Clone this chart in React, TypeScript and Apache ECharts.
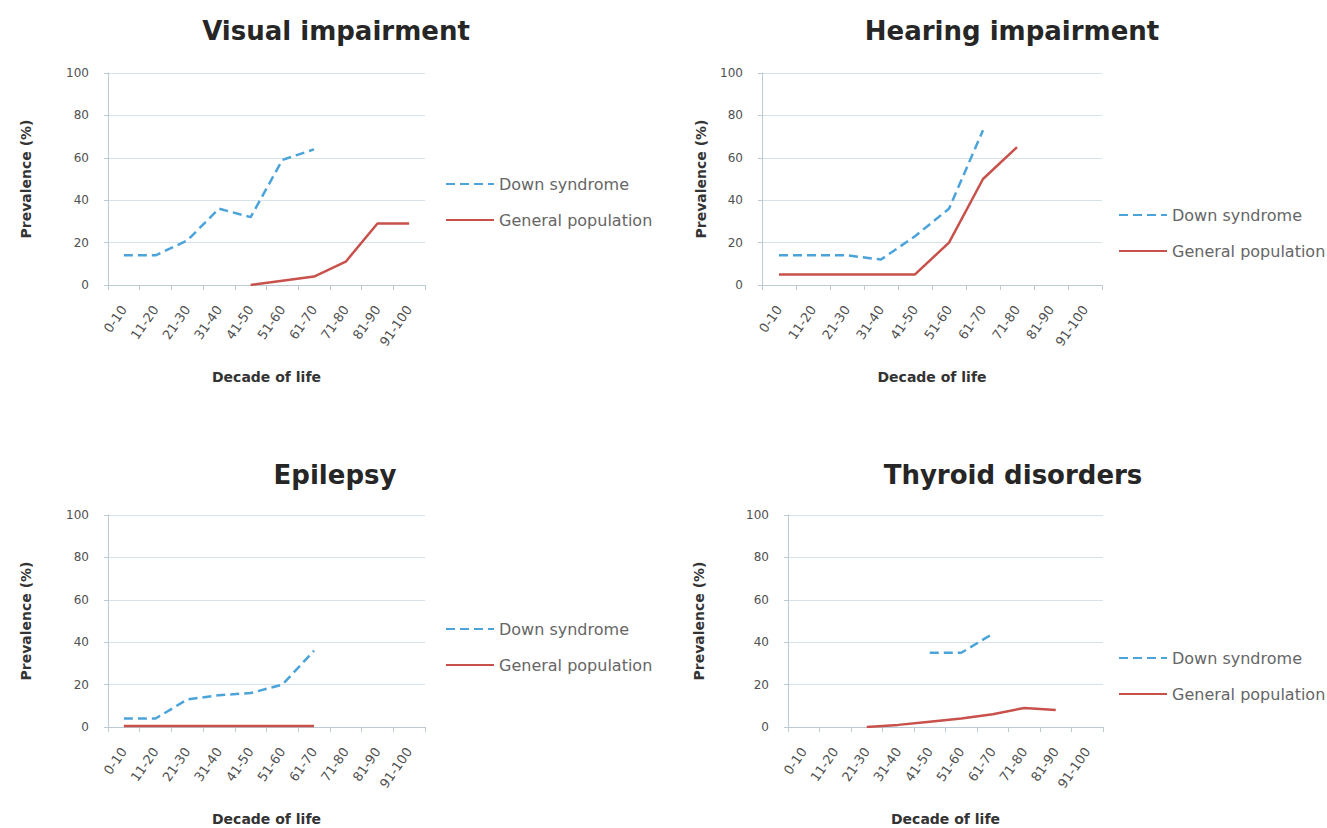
import React, { useEffect, useRef } from "react";
import * as echarts from "echarts";

const decades = ["0-10", "11-20", "21-30", "31-40", "41-50", "51-60", "61-70", "71-80", "81-90", "91-100"];
const yTicks = [0, 20, 40, 60, 80, 100];

const visualDown = [14, 14, 21, 36, 32, 59, 64, null, null, null];
const visualGeneral = [null, null, null, null, 0, 2, 4, 11, 29, 29];
const hearingDown = [14, 14, 14, 12, 23, 36, 73, null, null, null];
const hearingGeneral = [5, 5, 5, 5, 5, 20, 50, 65, null, null];
const epilepsyDown = [4, 4, 13, 15, 16, 20, 36, null, null, null];
const epilepsyGeneral = [0.5, 0.5, 0.5, 0.5, 0.5, 0.5, 0.5, null, null, null];
const thyroidDown = [null, null, null, null, 35, 35, 44, null, null, null];
const thyroidGeneral = [null, null, 0, 1, 2.5, 4, 6, 9, 8, null];

const panelTitles = ["Visual impairment", "Hearing impairment", "Epilepsy", "Thyroid disorders"];
const seriesNames = ["Down syndrome", "General population"];
const panelData = [
  [visualDown, visualGeneral],
  [hearingDown, hearingGeneral],
  [epilepsyDown, epilepsyGeneral],
  [thyroidDown, thyroidGeneral],
];

const FONT = "DejaVu Sans";
const BLUE = "#4ba3da";
const RED = "#c9514b";
const GRID_LINE = "#d6e2e8";
const AXIS_LINE = "#bccbd3";
const LABEL = "#505050";

// panel geometry: plot rectangle, title centre, y-name gap, legend position
const panels = [
  { left: 108, top: 73, width: 317, height: 212, titleX: 331, titleY: 13, nameGap: 75, legendX: 440, legendY: 171 },
  { left: 762, top: 73, width: 340, height: 212, titleX: 1007, titleY: 13, nameGap: 54, legendX: 1113, legendY: 202 },
  { left: 108, top: 515, width: 317, height: 212, titleX: 330, titleY: 457, nameGap: 75, legendX: 440, legendY: 616 },
  { left: 788, top: 515, width: 315, height: 212, titleX: 1008, titleY: 457, nameGap: 82, legendX: 1113, legendY: 645 },
];

export default function App() {
  const ref = useRef<HTMLDivElement>(null);

  useEffect(() => {
    if (!ref.current) return;
    const chart = echarts.init(ref.current, null, { renderer: "svg" });

    const option: any = {
      animation: false,
      backgroundColor: "#ffffff",
      textStyle: { fontFamily: FONT },
      title: panels.map((p, i) => ({
        text: panelTitles[i],
        left: p.titleX,
        top: p.titleY,
        textAlign: "center",
        textStyle: { fontFamily: FONT, fontSize: 26, fontWeight: "bold", color: "#262626" },
      })),
      legend: panels.map((p) => ({
        orient: "vertical",
        left: p.legendX,
        top: p.legendY,
        itemWidth: 48,
        itemHeight: 14,
        itemGap: 20,
        data: seriesNames,
        itemStyle: { opacity: 0 },
        textStyle: { fontFamily: FONT, fontSize: 16, color: "#666666" },
      })),
      grid: panels.map((p) => ({
        left: p.left,
        top: p.top,
        width: p.width,
        height: p.height,
        containLabel: false,
      })),
      xAxis: panels.map((_, i) => ({
        type: "category",
        gridIndex: i,
        data: decades,
        boundaryGap: true,
        name: "Decade of life",
        nameLocation: "middle",
        nameGap: 85,
        nameTextStyle: { fontFamily: FONT, fontSize: 14, fontWeight: "bold", color: "#333333" },
        axisLine: { show: true, lineStyle: { color: AXIS_LINE, width: 1 } },
        axisTick: { show: true, alignWithLabel: false, length: 5, lineStyle: { color: AXIS_LINE } },
        axisLabel: { rotate: 55, fontSize: 13, color: LABEL, margin: 22, interval: 0 },
        splitLine: { show: false },
      })),
      yAxis: panels.map((p, i) => ({
        type: "value",
        gridIndex: i,
        min: yTicks[0],
        max: yTicks[yTicks.length - 1],
        interval: yTicks[1] - yTicks[0],
        name: "Prevalence (%)",
        nameLocation: "middle",
        nameGap: p.nameGap,
        nameRotate: 90,
        nameTextStyle: { fontFamily: FONT, fontSize: 14, fontWeight: "bold", color: "#333333" },
        axisLine: { show: true, lineStyle: { color: AXIS_LINE, width: 1 } },
        axisTick: { show: true, length: 4, lineStyle: { color: AXIS_LINE } },
        axisLabel: { fontSize: 12, color: LABEL, margin: 19 },
        splitLine: { show: true, lineStyle: { color: GRID_LINE, width: 1 } },
      })),
      series: panelData.flatMap((pair, i) => [
        {
          name: seriesNames[0],
          type: "line",
          xAxisIndex: i,
          yAxisIndex: i,
          data: pair[0],
          symbol: "none",
          connectNulls: false,
          lineStyle: { color: BLUE, width: 2.5, type: [9, 5] },
          itemStyle: { color: BLUE },
        },
        {
          name: seriesNames[1],
          type: "line",
          xAxisIndex: i,
          yAxisIndex: i,
          data: pair[1],
          symbol: "none",
          connectNulls: false,
          lineStyle: { color: RED, width: 2.5, type: "solid" },
          itemStyle: { color: RED },
        },
      ]),
    };

    chart.setOption(option);
    return () => chart.dispose();
  }, []);

  return (
    <div
      ref={ref}
      style={{ position: "fixed", left: 0, top: 0, width: 1327, height: 828, background: "#ffffff" }}
    />
  );
}
